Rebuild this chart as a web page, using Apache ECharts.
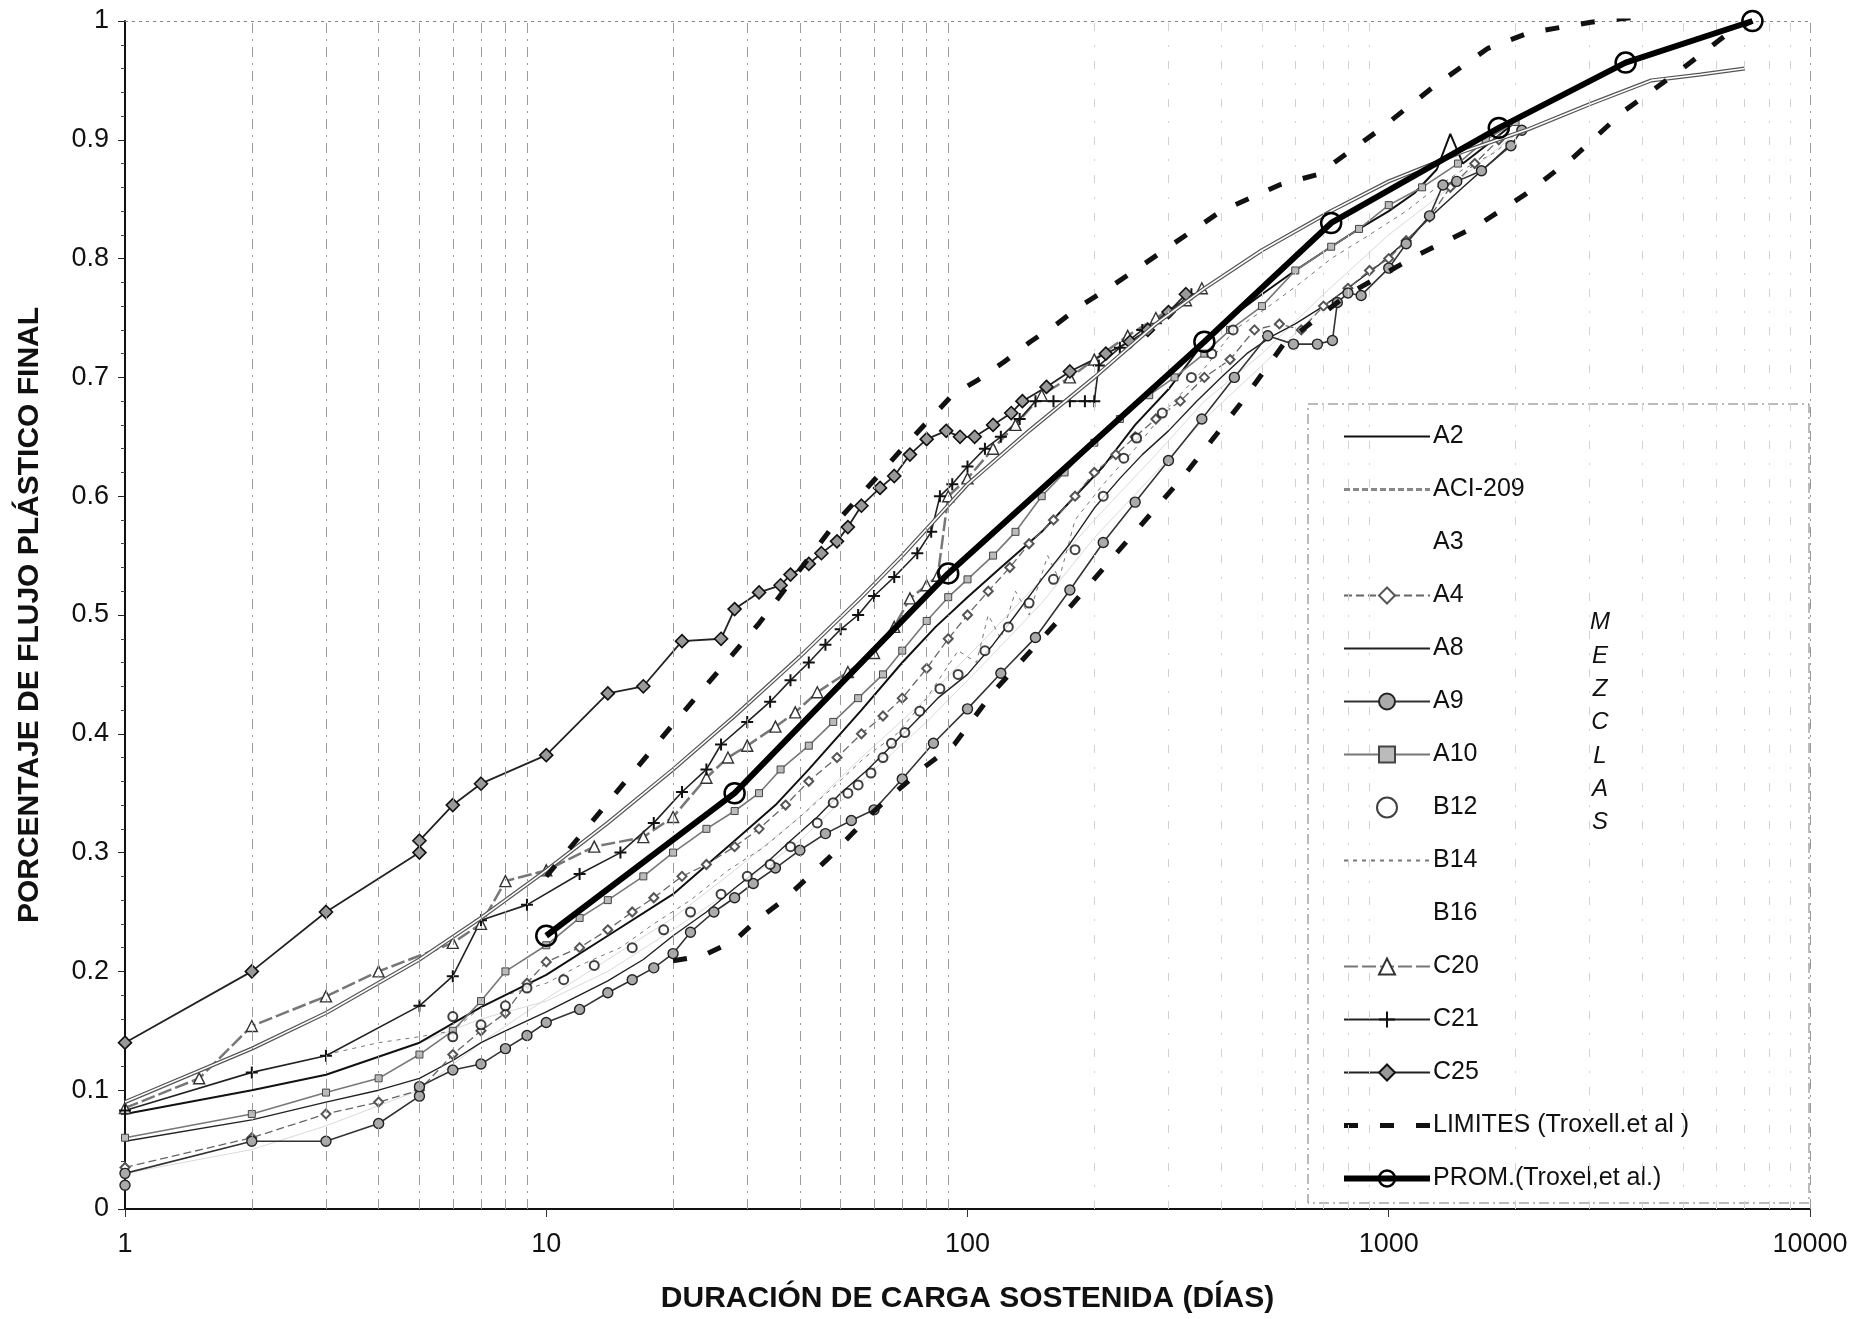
<!DOCTYPE html>
<html><head><meta charset="utf-8">
<script src="https://cdn.jsdelivr.net/npm/echarts@6/dist/echarts.min.js"></script>
<style>html,body{margin:0;padding:0;background:#fff}#c{width:1864px;height:1319px}</style>
</head><body><div id="c"></div>
<script>
// ---------- DATA ----------
const xTicks = [1, 10, 100, 1000, 10000];
const gridDaysNear = [2,3,4,5,6,7,8,9,20,30,40,50,60,70,80,90];
const gridDaysFar = [200,300,400,500,600,700,800,900,2000,3000,4000,5000,6000,7000,8000,9000];

const A2_days = [1,2,3,5,7,10,14,20,28,35,42,56,70,84,100,120,150,180,210,250,300,365,420,500,600,730,850,1000,1150,1300,1400,1500,1700,2000];
const A2_vals = [0.08,0.1,0.113,0.14,0.17,0.197,0.23,0.265,0.31,0.34,0.37,0.42,0.46,0.49,0.515,0.54,0.57,0.6,0.625,0.66,0.69,0.73,0.75,0.77,0.79,0.81,0.825,0.84,0.855,0.875,0.905,0.88,0.895,0.915];

const ACI_days = [1,2,3,5,7,10,14,20,28,40,56,70,100,140,200,280,365,500,730,1000,1500,2150,3000,4200,5500,7000];
const ACI_vals = [0.09,0.135,0.165,0.21,0.245,0.285,0.325,0.37,0.415,0.465,0.515,0.55,0.61,0.655,0.7,0.745,0.775,0.807,0.84,0.865,0.89,0.909,0.93,0.95,0.955,0.96];

const A3_days = [1,2,3,5,7,10,14,20,28,40,56,80,110,150,200,280,365,500,700,1000,1400,2000];
const A3_vals = [0.03,0.05,0.07,0.1,0.14,0.177,0.21,0.245,0.285,0.33,0.38,0.43,0.48,0.53,0.58,0.635,0.68,0.72,0.77,0.82,0.86,0.905];

const A4_days = [1,2,3,4,5,6,7,8,9,10,12,14,16,18,21,24,28,32,37,42,49,56,63,70,80,90,100,112,126,140,160,180,200,225,250,280,320,365,420,480,550,620,700,800,900,1000,1100,1250,1400,1600,1825];
const A4_vals = [0.035,0.06,0.08,0.09,0.1,0.13,0.15,0.165,0.19,0.208,0.22,0.235,0.25,0.262,0.28,0.29,0.305,0.32,0.34,0.36,0.38,0.4,0.415,0.43,0.455,0.48,0.5,0.52,0.54,0.56,0.58,0.6,0.62,0.635,0.65,0.665,0.68,0.7,0.715,0.74,0.745,0.74,0.76,0.775,0.79,0.8,0.815,0.835,0.86,0.88,0.9];

const A8_days = [1,2,3,4,5,6,7,8,10,12,14,17,20,24,28,33,38,44,50,58,66,75,85,100,115,130,150,175,200,230,260,300,350,400,460,530,600,700,800,950,1100,1300,1500,1800,2000];
const A8_vals = [0.057,0.075,0.09,0.1,0.11,0.125,0.14,0.15,0.166,0.18,0.192,0.21,0.23,0.25,0.27,0.29,0.31,0.33,0.35,0.37,0.39,0.41,0.43,0.45,0.475,0.5,0.53,0.56,0.59,0.615,0.635,0.655,0.68,0.7,0.72,0.735,0.745,0.76,0.775,0.795,0.815,0.84,0.86,0.885,0.9];

const A9_days = [1,1,2,3,4,5,5,6,7,8,9,10,12,14,16,18,20,22,25,28,31,35,40,46,53,60,70,83,100,120,145,175,210,250,300,360,430,516,594,677,735,755,800,860,1000,1100,1250,1345,1450,1660,1950,2070];
const A9_vals = [0.02,0.03,0.057,0.057,0.072,0.095,0.103,0.117,0.122,0.135,0.146,0.157,0.168,0.182,0.193,0.203,0.215,0.233,0.25,0.262,0.274,0.287,0.302,0.316,0.327,0.336,0.362,0.392,0.421,0.451,0.481,0.521,0.561,0.595,0.63,0.665,0.7,0.735,0.728,0.728,0.731,0.763,0.771,0.769,0.792,0.8125,0.836,0.862,0.865,0.874,0.895,0.908];

const A10_days = [1,2,3,4,5,6,7,8,10,12,14,17,20,24,28,32,36,42,48,55,63,70,80,90,100,115,130,150,170,200,230,270,310,365,420,500,600,730,850,1000,1200,1460,1700,2000];
const A10_vals = [0.06,0.08,0.098,0.11,0.13,0.15,0.175,0.2,0.222,0.245,0.26,0.28,0.3,0.32,0.335,0.35,0.37,0.39,0.41,0.43,0.45,0.47,0.495,0.515,0.53,0.55,0.57,0.6,0.62,0.645,0.665,0.685,0.7,0.72,0.74,0.76,0.79,0.81,0.825,0.845,0.86,0.88,0.9,0.915];

const B12_days = [6,6,7,8,9,11,13,16,19,22,26,30,34,38,44,48,52,55,59,63,66,71,77,86,95,110,125,140,160,180,210,235,252,290,340,380,427];
const B12_vals = [0.145,0.162,0.155,0.171,0.186,0.193,0.205,0.22,0.235,0.25,0.265,0.28,0.29,0.305,0.325,0.342,0.35,0.357,0.367,0.38,0.392,0.401,0.419,0.438,0.45,0.47,0.49,0.51,0.53,0.555,0.6,0.632,0.649,0.67,0.7,0.72,0.74];

const B14_days = [3,4,5,6,7,8,10,12,15,18,22,27,33,40,48,57,68,80,95,105,112,120,130,140,155,165,180,210,250,300,360,430,520,620,730,900,1100,1300,1500,1800,2000];
const B14_vals = [0.13,0.14,0.145,0.15,0.17,0.18,0.19,0.205,0.22,0.24,0.26,0.285,0.305,0.33,0.355,0.38,0.4,0.43,0.47,0.46,0.5,0.48,0.52,0.5,0.55,0.53,0.58,0.61,0.64,0.675,0.705,0.74,0.76,0.78,0.8,0.82,0.84,0.86,0.875,0.89,0.905];

const B16_days = [5,7,10,14,20,28,40,56,80,110,150,200,280,365,500,700,1000,1400,2000];
const B16_vals = [0.14,0.16,0.175,0.2,0.235,0.27,0.31,0.36,0.41,0.46,0.51,0.565,0.62,0.665,0.71,0.76,0.8,0.85,0.9];

const C20_days = [1,1.5,2,3,4,6,7,8,10,13,17,20,24,27,30,35,39,44,52,60,67,73,80,85,90,100,115,130,150,175,200,240,280,330,360];
const C20_vals = [0.085,0.11,0.154,0.179,0.2,0.224,0.24,0.276,0.285,0.305,0.313,0.33,0.363,0.38,0.39,0.406,0.418,0.435,0.452,0.468,0.49,0.514,0.525,0.533,0.6,0.615,0.64,0.66,0.685,0.7,0.715,0.735,0.75,0.765,0.775];

const C21_days = [1,2,3,5,6,7,9,12,15,18,21,24,26,30,34,38,42,46,50,55,60,67,76,82,86,92,100,110,120,133,145,160,175,190,200,205,230,260,300,340];
const C21_vals = [0.083,0.115,0.129,0.171,0.196,0.243,0.256,0.282,0.3,0.325,0.351,0.37,0.391,0.41,0.427,0.445,0.46,0.475,0.488,0.5,0.516,0.532,0.552,0.57,0.6,0.61,0.625,0.64,0.65,0.665,0.68,0.68,0.68,0.68,0.68,0.71,0.725,0.74,0.755,0.77];

const C25_days = [1,2,3,5,5,6,7,10,14,17,21,26,28,32,36,38,42,45,49,52,56,62,67,73,80,89,96,104,115,127,135,154,175,213,243,268,300,330];
const C25_vals = [0.14,0.2,0.25,0.3,0.31,0.34,0.358,0.382,0.434,0.44,0.478,0.48,0.505,0.519,0.525,0.534,0.543,0.552,0.562,0.574,0.592,0.607,0.617,0.635,0.648,0.655,0.65,0.65,0.66,0.67,0.68,0.692,0.705,0.72,0.73,0.74,0.755,0.77];

const LIMUP_days = [10,12.7,20,32,48,70,92,106,122,141,163,185,214,247,287,400,550,680,955,1280,1720,2150,3020,4240,7300];
const LIMUP_vals = [0.28,0.324,0.408,0.493,0.575,0.64,0.685,0.698,0.713,0.73,0.745,0.76,0.774,0.789,0.805,0.84,0.862,0.871,0.909,0.945,0.977,0.99,0.999,1.005,1.005];

const LIMLO_days = [20,23.5,28,31.6,36.6,47,60,79,93,115,163,231,326,445,563,800,1186,1611,2108,2760,3610,4900,6410,7300];
const LIMLO_vals = [0.209,0.213,0.226,0.243,0.26,0.296,0.335,0.372,0.391,0.435,0.494,0.556,0.617,0.678,0.728,0.77,0.804,0.827,0.854,0.886,0.924,0.958,0.99,1.0];

const PROM_days = [10,28,90,365,730,1825,3650,7300];
const PROM_vals = [0.23,0.35,0.535,0.73,0.83,0.91,0.965,1.0];

const legendNames = ['A2','ACI-209','A3','A4','A8','A9','A10','B12','B14','B16','C20','C21','C25','LIMITES (Troxell.et al )','PROM.(Troxel,et al.)'];
const noMarkerNames = ['A2','ACI-209','A8','B14','LIMITES (Troxell.et al )'];
const blankLegendNames = ['A3','B16'];
const sideLabel = ['M','E','Z','C','L','A','S'];

// ---------- CHART ----------
const pairs = (d, v) => d.map((x, i) => [x, v[i]]);
const FONT = '"Liberation Sans", Arial, sans-serif';

function lineS(name, d, v, o) {
  return Object.assign({
    name, type: 'line', data: pairs(d, v), showSymbol: true, symbol: 'none',
    symbolSize: 8, animation: false, z: 3
  }, o);
}

const series = [
  {
    name: '_grid', type: 'line', data: [], silent: true, z: 1,
    markLine: {
      symbol: ['none', 'none'], silent: true, animation: false, label: { show: false },
      lineStyle: { color: '#9a9a9a', type: [10, 6, 2, 6], width: 1 },
      data: gridDaysNear.map(d => ({ xAxis: d })).concat(
        gridDaysFar.map(d => ({ xAxis: d, lineStyle: { color: '#d2d2d2', type: [8, 14, 2, 14], width: 1 } })),
        [
          { xAxis: 10000, lineStyle: { color: '#999', type: [10, 6, 2, 6], width: 1 } },
          { yAxis: 1, lineStyle: { color: '#888', type: [3, 4], width: 1 } }
        ])
    }
  },
  lineS('A3', A3_days, A3_vals, { lineStyle: { color: '#dadada', width: 1 }, itemStyle: { color: '#dadada' } }),
  lineS('B16', B16_days, B16_vals, { lineStyle: { color: '#dadada', width: 1 }, itemStyle: { color: '#dadada' } }),
  lineS('B14', B14_days, B14_vals, { lineStyle: { color: '#777', width: 1, type: [4, 5] }, itemStyle: { color: '#777' } }),
  lineS('ACI-209', ACI_days, ACI_vals, { lineStyle: { color: '#555', width: 4 }, itemStyle: { color: '#555' }, z: 4 }),
  lineS('_aci_inner', ACI_days, ACI_vals, { lineStyle: { color: '#fff', width: 1.6 }, silent: true, z: 4 }),
  lineS('A8', A8_days, A8_vals, { lineStyle: { color: '#222', width: 1.4 }, itemStyle: { color: '#222' } }),
  lineS('A2', A2_days, A2_vals, { lineStyle: { color: '#111', width: 2 }, itemStyle: { color: '#111' } }),
  lineS('A4', A4_days, A4_vals, { symbol: 'emptyDiamond', symbolSize: 9, lineStyle: { color: '#666', width: 1.3, type: [8, 4] }, itemStyle: { color: '#555', borderWidth: 1.3 } }),
  lineS('A10', A10_days, A10_vals, { symbol: 'rect', symbolSize: 7, lineStyle: { color: '#777', width: 1.6 }, itemStyle: { color: '#bbb', borderColor: '#444', borderWidth: 1 } }),
  lineS('A9', A9_days, A9_vals, { symbol: 'circle', symbolSize: 10, lineStyle: { color: '#333', width: 1.6 }, itemStyle: { color: '#aaa', borderColor: '#222', borderWidth: 1.4 } }),
  { name: 'B12', type: 'scatter', data: pairs(B12_days, B12_vals), symbol: 'emptyCircle', symbolSize: 9, z: 5,
    itemStyle: { color: '#111', borderWidth: 2 }, animation: false },
  lineS('C20', C20_days, C20_vals, { symbol: 'triangle', symbolSize: 11, lineStyle: { color: '#777', width: 2.5, type: [14, 4] }, itemStyle: { color: '#fff', borderColor: '#333', borderWidth: 1.4 } }),
  lineS('C21', C21_days, C21_vals, { symbol: 'path://M0,5L10,5M5,0L5,10', symbolSize: 12, lineStyle: { color: '#222', width: 1.6 }, itemStyle: { color: 'none', borderColor: '#111', borderWidth: 2 } }),
  lineS('C25', C25_days, C25_vals, { symbol: 'diamond', symbolSize: 13, lineStyle: { color: '#222', width: 1.8 }, itemStyle: { color: '#999', borderColor: '#111', borderWidth: 1.6 } }),
  lineS('LIMITES (Troxell.et al )', LIMUP_days, LIMUP_vals, { lineStyle: { color: '#111', width: 5, type: [14, 22] }, itemStyle: { color: '#111' }, z: 6 }),
  lineS('LIMITES (Troxell.et al )', LIMLO_days, LIMLO_vals, { lineStyle: { color: '#111', width: 5, type: [14, 22] }, itemStyle: { color: '#111' }, z: 6 }),
  lineS('PROM.(Troxel,et al.)', PROM_days, PROM_vals, { symbol: 'circle', symbolSize: 20, lineStyle: { color: '#000', width: 6 }, itemStyle: { color: 'rgba(255,255,255,0)', borderColor: '#000', borderWidth: 2.5 }, z: 7 })
];

const legendData = legendNames.map(n => {
  if (blankLegendNames.includes(n)) return { name: n, itemStyle: { opacity: 0 }, lineStyle: { opacity: 0 } };
  if (n === 'PROM.(Troxel,et al.)') return { name: n, lineStyle: { width: 6 }, itemStyle: { borderWidth: 2.5 } };
  if (n === 'LIMITES (Troxell.et al )') return { name: n, itemStyle: { opacity: 0 }, lineStyle: { width: 5 } };
  if (n === 'ACI-209') return { name: n, itemStyle: { opacity: 0 }, lineStyle: { width: 3, color: '#888', type: [6, 3] } };
  if (noMarkerNames.includes(n)) return { name: n, itemStyle: { opacity: 0 } };
  return { name: n };
});

const chart = echarts.init(document.getElementById('c'), null, { renderer: 'canvas' });
chart.setOption({
  animation: false,
  backgroundColor: '#fff',
  textStyle: { fontFamily: FONT },
  grid: { left: 125, right: 54, top: 21, bottom: 102, containLabel: false },
  xAxis: {
    type: 'log', logBase: 10, min: xTicks[0], max: xTicks[xTicks.length - 1],
    name: 'DURACIÓN DE CARGA SOSTENIDA (DÍAS)', nameLocation: 'middle', nameGap: 75,
    nameTextStyle: { fontFamily: FONT, fontWeight: 'bold', fontSize: 30, color: '#111' },
    axisLine: { lineStyle: { color: '#111', width: 2 } },
    axisTick: { show: true, length: 8, lineStyle: { color: '#333' } },
    axisLabel: { fontSize: 27, color: '#111', margin: 22, formatter: v => String(v) },
    splitLine: { show: false }
  },
  yAxis: {
    type: 'value', min: 0, max: 1, interval: 0.1,
    name: 'PORCENTAJE DE FLUJO PLÁSTICO FINAL', nameLocation: 'middle', nameGap: 80,
    nameTextStyle: { fontFamily: FONT, fontWeight: 'bold', fontSize: 30, color: '#111' },
    axisLine: { show: true, lineStyle: { color: '#111', width: 2 } },
    axisTick: { show: true, length: 7, lineStyle: { color: '#222' } },
    minorTick: { show: true, splitNumber: 5, length: 4, lineStyle: { color: '#444' } },
    axisLabel: { fontSize: 27, color: '#111', margin: 16, formatter: v => String(Math.round(v * 10) / 10) },
    splitLine: { show: false }
  },
  legend: {
    data: legendData, orient: 'vertical', left: 1336, top: 419,
    itemWidth: 86, itemHeight: 20, itemGap: 28,
    textStyle: { fontFamily: FONT, fontSize: 25, color: '#111', lineHeight: 20, padding: [0, 0, 0, -2] },
    selectedMode: false
  },
  graphic: [
    { type: 'rect', shape: { x: 1308, y: 404, width: 501, height: 799 }, z: 0,
      style: { fill: 'none', stroke: '#777', lineWidth: 1, lineDash: [10, 4, 2, 4] } },
    { type: 'text', left: 1590, top: 606, z: 10,
      style: { text: sideLabel.join('\n'), fontFamily: FONT, fontStyle: 'italic', fontSize: 24, lineHeight: 33.3, fill: '#111', textAlign: 'center' } }
  ],
  series
});
</script></body></html>
